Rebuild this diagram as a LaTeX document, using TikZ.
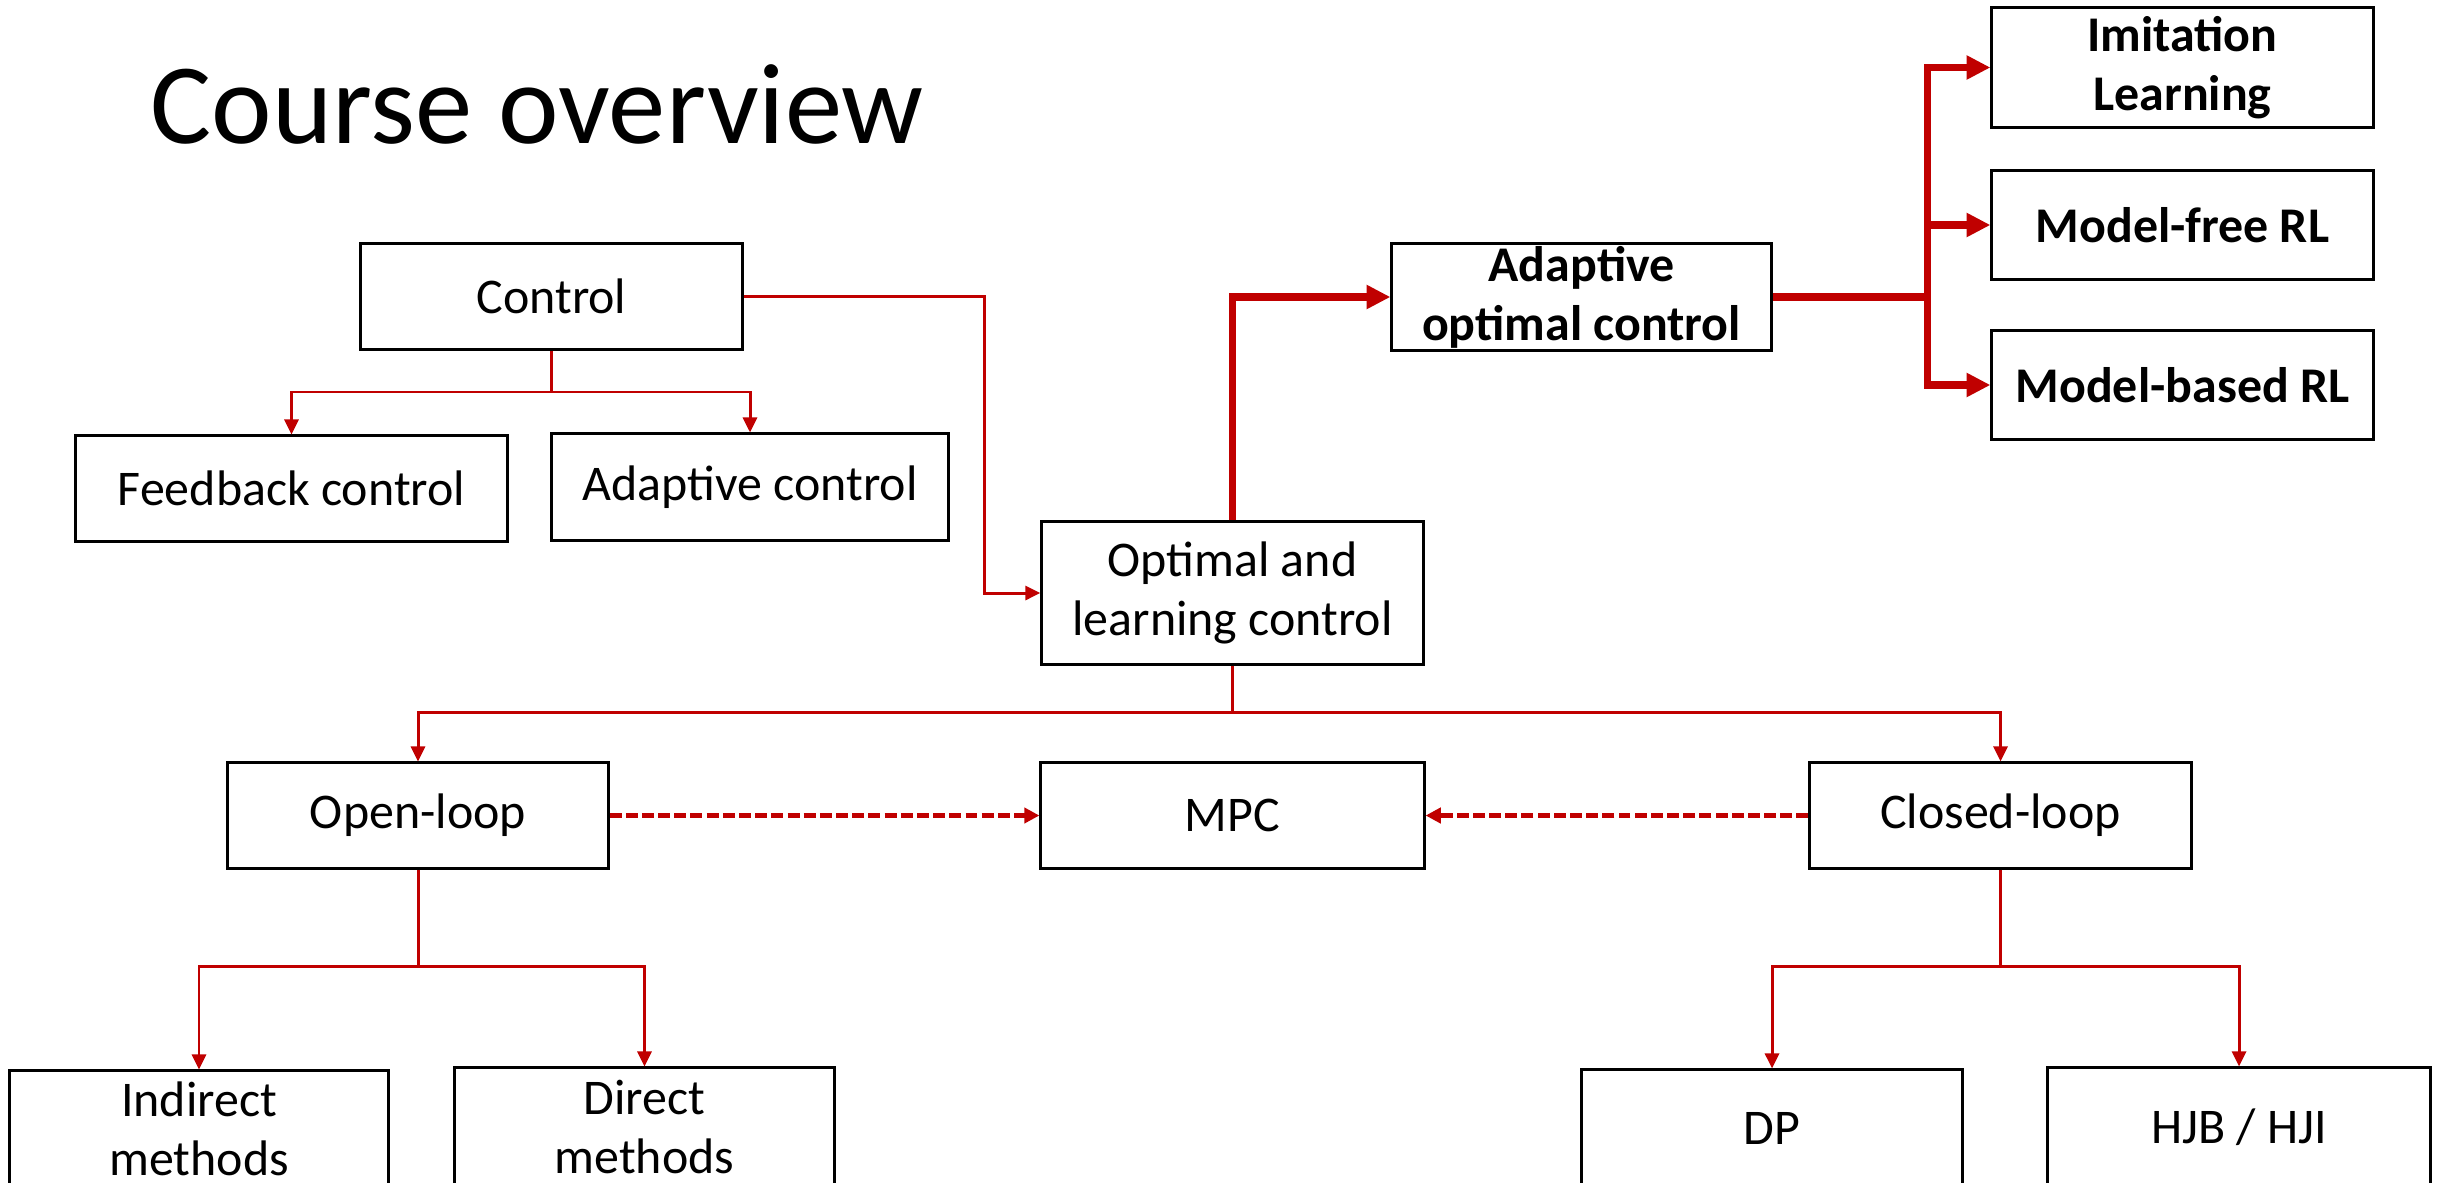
\documentclass[tikz,border=0pt]{standalone}
\usepackage{fontspec}
\setmainfont{Carlito}
\usetikzlibrary{arrows.meta}
\definecolor{cred}{HTML}{C00000}
\begin{document}
\begin{tikzpicture}[x=0.01cm,y=-0.01cm,
  box/.style={draw=black, line width=0.85pt, inner sep=0pt, align=center,
    font=\fontsize{14.2}{16.8}\selectfont, fill=white},
  bbox/.style={box, font=\fontsize{14.2}{16.8}\selectfont\bfseries},
  thinline/.style={draw=cred, line width=0.85pt},
  thinarr/.style={thinline, -{Triangle[length=4.3pt,width=4pt]}},
  thickline/.style={draw=cred, line width=2pt},
  thickarr/.style={thickline, -{Triangle[length=6.8pt,width=6.5pt]}},
  dasharr/.style={draw=cred, line width=1.15pt, dash pattern=on 3.4pt off 1.2pt,
    -{Triangle[length=4.3pt,width=4.3pt]}}
]
\useasboundingbox (0,0) rectangle (2440,1182);
\clip (0,0) rectangle (2440,1182);
\fill[white] (0,0) rectangle (2440,1182);

\node[anchor=base west, inner sep=0pt, font=\fontsize{32.6}{38}\selectfont] (title) at (150,144) {Course overview};

% boxes
\node[box, minimum width=3.81cm, minimum height=1.05cm] (control) at (551.5,296.5) {Control};
\node[box, minimum width=4.31cm, minimum height=1.05cm] (feedback) at (291.5,488.5) {Feedback control};
\node[box, minimum width=3.96cm, minimum height=1.06cm] (adaptive) at (750,487) {Adaptive control};
\node[box, minimum width=3.81cm, minimum height=1.42cm] (optimal) at (1232.5,593) {Optimal and\\learning control};
\node[bbox, minimum width=3.79cm, minimum height=1.06cm] (aoc) at (1581.5,297) {Adaptive\\optimal control};
\node[bbox, minimum width=3.81cm, minimum height=1.19cm] (imitation) at (2182.5,67.5) {Imitation\\Learning};
\node[bbox, minimum width=3.81cm, minimum height=1.08cm] (modelfree) at (2182.5,225) {Model-free RL};
\node[bbox, minimum width=3.81cm, minimum height=1.08cm] (modelbased) at (2182.5,385) {Model-based RL};
\node[box, minimum width=3.80cm, minimum height=1.05cm] (openloop) at (418,815.5) {Open-loop};
\node[box, minimum width=3.83cm, minimum height=1.05cm] (mpc) at (1232.5,815.5) {MPC};
\node[box, minimum width=3.81cm, minimum height=1.05cm] (closed) at (2000.5,815.5) {Closed-loop};
\node[box, minimum width=3.78cm, minimum height=1.15cm] (indirect) at (199,1128.5) {Indirect\\methods};
\node[box, minimum width=3.79cm, minimum height=1.18cm] (direct) at (644.5,1127) {Direct\\methods};
\node[box, minimum width=3.80cm, minimum height=1.16cm] (dp) at (1772,1128) {DP};
\node[box, minimum width=3.82cm, minimum height=1.18cm] (hjb) at (2239,1127) {HJB / HJI};

% junction coordinates
\coordinate (cbus) at (551.5,392);
\coordinate (cturn) at (984,593);
\coordinate (abus) at (1927,297);
\coordinate (obus) at (1232.5,712);
\coordinate (olbus) at (418,966);
\coordinate (clbus) at (2000.5,966);

% connectors
\draw[thinline] (control.south) -- (cbus);
\draw[thinarr] (cbus) -| (feedback.north);
\draw[thinarr] (cbus) -| (adaptive.north);
\draw[thinarr] (control.east) -| (cturn) -- (optimal.west);

\draw[thickarr] (optimal.north) |- (aoc.west);
\draw[thickline] (aoc.east) -- (abus);
\draw[thickarr] (abus) |- (imitation.west);
\draw[thickarr] (abus) |- (modelfree.west);
\draw[thickarr] (abus) |- (modelbased.west);

\draw[thinline] (optimal.south) -- (obus);
\draw[thinarr] (obus) -| (openloop.north);
\draw[thinarr] (obus) -| (closed.north);

\draw[dasharr] (openloop.east) -- (mpc.west);
\draw[dasharr] (closed.west) -- (mpc.east);

\draw[thinline] (openloop.south) -- (olbus);
\draw[thinarr] (olbus) -| (indirect.north);
\draw[thinarr] (olbus) -| (direct.north);
\draw[thinline] (closed.south) -- (clbus);
\draw[thinarr] (clbus) -| (dp.north);
\draw[thinarr] (clbus) -| (hjb.north);
\end{tikzpicture}
\end{document}
